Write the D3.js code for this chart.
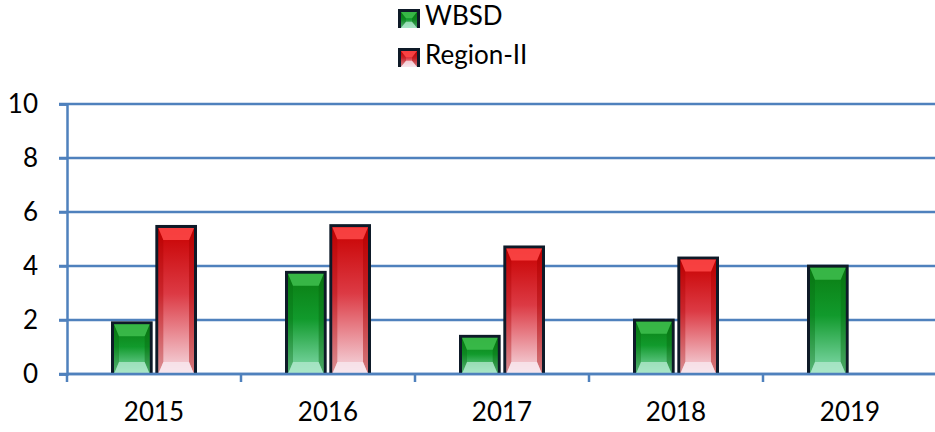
<!DOCTYPE html>
<html>
<head>
<meta charset="utf-8">
<script src="https://cdn.jsdelivr.net/npm/d3@7"></script>
<style>
  body { margin: 0; background: #fff; }
  text { font-family: Lato, "Open Sans", sans-serif; fill: #000; }
</style>
</head>
<body>
<svg width="935" height="432"></svg>
<script>
window.onload = function(e){

var svg = d3.select("svg"),
    width = +svg.attr("width"),
    height = +svg.attr("height");

var series = ["WBSD", "Region-II"];
var data = [
  {year: "2015", WBSD: 1.95, "Region-II": 5.52},
  {year: "2016", WBSD: 3.82, "Region-II": 5.55},
  {year: "2017", WBSD: 1.45, "Region-II": 4.76},
  {year: "2018", WBSD: 2.05, "Region-II": 4.35},
  {year: "2019", WBSD: 4.05, "Region-II": null}
];

var style = {
  "WBSD":      {top: "#0a7d12", mid: "#119a2c", bot: "#86dcb0", bevTop: "#3fbf4f", bevBot: "#b6ead0", side: "#066b10"},
  "Region-II": {top: "#c80000", mid: "#dc3a44", bot: "#f6dde4", bevTop: "#ff4a4a", bevBot: "#f8eaf0", side: "#a80000"}
};

var axisColor = "#4f81bd";
var left = 67, right = 937, y0 = 374, y10 = 104;

var x0 = d3.scaleBand().domain(data.map(function(d){ return d.year; })).range([left, right]);
var x1 = d3.scaleBand().domain(series).range([44, 130]).paddingInner(0.06);
var y = d3.scaleLinear().domain([0, 10]).range([y0, y10]);

// gradients
var defs = svg.append("defs");
series.forEach(function(s, i){
  var g = defs.append("linearGradient").attr("id", "grad" + i)
      .attr("x1", 0).attr("y1", 0).attr("x2", 0).attr("y2", 1);
  g.append("stop").attr("offset", "0%").attr("stop-color", style[s].top);
  g.append("stop").attr("offset", "45%").attr("stop-color", style[s].mid);
  g.append("stop").attr("offset", "100%").attr("stop-color", style[s].bot);
});

// gridlines
svg.append("g").selectAll("line")
  .data(y.ticks(5))
  .enter().append("line")
    .attr("x1", left - 8).attr("x2", width)
    .attr("y1", function(d){ return y(d); })
    .attr("y2", function(d){ return y(d); })
    .attr("stroke", axisColor).attr("stroke-width", 2.5);

// y axis
var yAxis = svg.append("g")
    .attr("transform", "translate(" + left + ",0)")
    .call(d3.axisLeft(y).ticks(5).tickSize(8).tickPadding(21));
yAxis.select(".domain").attr("stroke", axisColor).attr("stroke-width", 2.5);
yAxis.selectAll(".tick line").attr("stroke", axisColor).attr("stroke-width", 2.5);
yAxis.selectAll("text").attr("font-size", 26).attr("fill", "#000");

// x axis: ticks at band boundaries
var bounds = x0.domain().map(function(d){ return x0(d); }).concat([right]);
svg.append("g").selectAll("line")
  .data(bounds)
  .enter().append("line")
    .attr("x1", function(d){ return d; }).attr("x2", function(d){ return d; })
    .attr("y1", y0).attr("y2", y0 + 8)
    .attr("stroke", axisColor).attr("stroke-width", 2.5);

svg.append("g").selectAll("text")
  .data(x0.domain())
  .enter().append("text")
    .attr("x", function(d){ return x0(d) + x0.bandwidth() / 2; })
    .attr("y", 421)
    .attr("text-anchor", "middle")
    .attr("font-size", 26)
    .text(function(d){ return d; });

// bars
function drawBar(g, x, yt, w, h, s, i) {
  var b = 3, bev = Math.min(12, h / 3);
  g.append("rect")
    .attr("x", x).attr("y", yt).attr("width", w).attr("height", h)
    .attr("fill", "#0e1a28");
  var ix = x + b, iy = yt + b, iw = w - 2 * b, ih = h - b;
  g.append("rect")
    .attr("x", ix).attr("y", iy).attr("width", iw).attr("height", ih)
    .attr("fill", "url(#grad" + i + ")");
  var sb = 5;
  // side bevels
  g.append("polygon")
    .attr("points", [[ix, iy], [ix + sb, iy + bev], [ix + sb, iy + ih - bev], [ix, iy + ih]].join(" "))
    .attr("fill", style[s].side).attr("opacity", 0.35);
  g.append("polygon")
    .attr("points", [[ix + iw, iy], [ix + iw - sb, iy + bev], [ix + iw - sb, iy + ih - bev], [ix + iw, iy + ih]].join(" "))
    .attr("fill", style[s].side).attr("opacity", 0.45);
  // top bevel
  g.append("polygon")
    .attr("points", [[ix, iy], [ix + iw, iy], [ix + iw - sb, iy + bev], [ix + sb, iy + bev]].join(" "))
    .attr("fill", style[s].bevTop).attr("opacity", 0.85);
  // bottom bevel
  g.append("polygon")
    .attr("points", [[ix, iy + ih], [ix + iw, iy + ih], [ix + iw - sb, iy + ih - bev], [ix + sb, iy + ih - bev]].join(" "))
    .attr("fill", style[s].bevBot).attr("opacity", 0.75);
}

var bars = svg.append("g");
data.forEach(function(d){
  series.forEach(function(s, i){
    if (d[s] == null) return;
    var x = x0(d.year) + x1(s);
    var yt = y(d[s]);
    drawBar(bars, x, yt, x1.bandwidth(), y0 - yt, s, i);
  });
});

// redraw baseline over bars
svg.append("line")
  .attr("x1", left).attr("x2", width).attr("y1", y0).attr("y2", y0)
  .attr("stroke", axisColor).attr("stroke-width", 2.5);

// legend
var legend = svg.append("g").selectAll("g")
  .data(series)
  .enter().append("g")
    .attr("transform", function(d, i){ return "translate(398," + (9 + i * 39) + ")"; });
legend.each(function(s, i){
  drawBar(d3.select(this), 0, 0, 22, 19, s, i);
});
legend.append("text")
  .attr("x", 27).attr("y", 16)
  .attr("font-size", 26)
  .text(function(d){ return d; });

}
</script>
</body>
</html>
